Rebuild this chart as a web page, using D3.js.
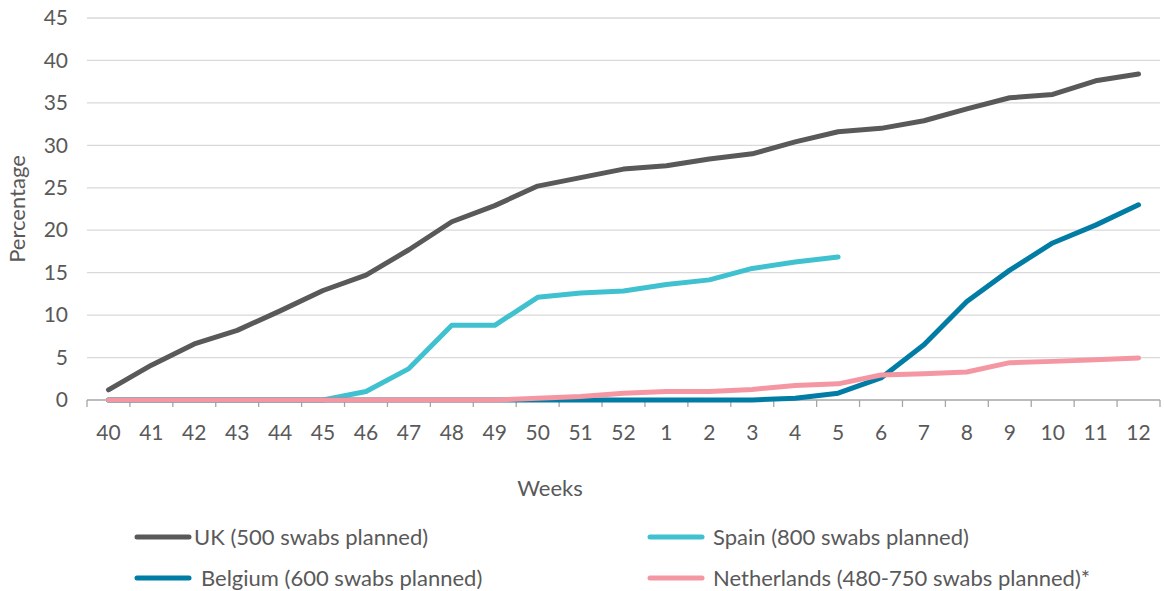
<!DOCTYPE html>
<html>
<head>
<meta charset="utf-8">
<script src="https://cdn.jsdelivr.net/npm/d3@7"></script>
<style>
  html, body { margin: 0; padding: 0; background: #fff; }
  svg { display: block; font-family: Lato, "Open Sans", sans-serif; }
</style>
</head>
<body>
<svg id="chart" width="1164" height="591"></svg>
<script>
// Surveillance weeks (ISO weeks 40–52, then 1–12 of the following year)
const weeks = ["40","41","42","43","44","45","46","47","48","49","50","51","52",
               "1","2","3","4","5","6","7","8","9","10","11","12"];

// Percentage of planned swabs collected, by week
const ukValues = [1.2, 4.1, 6.6, 8.2, 10.5, 12.9, 14.7, 17.7, 21.0, 22.9, 25.2, 26.2, 27.2,
                  27.6, 28.4, 29.0, 30.4, 31.6, 32.0, 32.9, 34.3, 35.6, 36.0, 37.6, 38.4];
const spainValues = [0, 0, 0, 0, 0, 0, 1.0, 3.7, 8.8, 8.8, 12.1, 12.6, 12.85,
                     13.6, 14.15, 15.5, 16.25, 16.85];
const belgiumValues = [0, 0, 0, 0, 0, 0, 0, 0, 0, 0, 0, 0, 0,
                       0, 0, 0, 0.2, 0.8, 2.6, 6.5, 11.6, 15.3, 18.5, 20.6, 23.0];
const netherlandsValues = [0, 0, 0, 0, 0, 0, 0, 0, 0, 0, 0.2, 0.4, 0.8,
                           1.0, 1.0, 1.25, 1.7, 1.9, 2.95, 3.1, 3.3, 4.4, 4.55, 4.75, 4.95];

const seriesNames = ["UK (500 swabs planned)", "Spain (800 swabs planned)",
                     "Belgium (600 swabs planned)", "Netherlands (480-750 swabs planned)*"];
const yTicks = [0, 5, 10, 15, 20, 25, 30, 35, 40, 45];

const series = [
  { name: seriesNames[0], values: ukValues, color: "#595959" },
  { name: seriesNames[1], values: spainValues, color: "#40c1cf" },
  { name: seriesNames[2], values: belgiumValues, color: "#007ca5" },
  { name: seriesNames[3], values: netherlandsValues, color: "#f597a3" }
];

const svg = d3.select("#chart");
const plot = { left: 87, right: 1160, top: 18, bottom: 400 };
const textColor = "#595959";
const tickFont = 21;
const labelFont = 22;

const x = d3.scaleBand().domain(weeks).range([plot.left, plot.right]);
const y = d3.scaleLinear().domain([0, 45]).range([plot.bottom, plot.top]);

// Horizontal gridlines
svg.append("g")
  .selectAll("line")
  .data(yTicks.filter(d => d > 0))
  .join("line")
  .attr("x1", plot.left).attr("x2", plot.right)
  .attr("y1", d => y(d)).attr("y2", d => y(d))
  .attr("stroke", "#d9d9d9").attr("stroke-width", 1.3);

// Y axis labels (no axis line)
const yAxis = svg.append("g")
  .attr("transform", `translate(${plot.left},0)`)
  .call(d3.axisLeft(y).tickValues(yTicks).tickSize(0).tickPadding(19));
yAxis.select(".domain").remove();
yAxis.selectAll("text")
  .attr("font-size", tickFont).attr("fill", textColor)
  .style("font-family", "Lato, 'Open Sans', sans-serif");

// X axis: ticks sit on the category boundaries
const xAxisG = svg.append("g").attr("transform", `translate(0,${plot.bottom})`);
xAxisG.append("line")
  .attr("x1", plot.left).attr("x2", plot.right)
  .attr("stroke", "#a6a6a6").attr("stroke-width", 1.3);
const boundaries = weeks.map(w => x(w)).concat([x(weeks[weeks.length - 1]) + x.bandwidth()]);
xAxisG.selectAll("line.tick")
  .data(boundaries)
  .join("line")
  .attr("class", "tick")
  .attr("x1", d => d).attr("x2", d => d)
  .attr("y1", 0).attr("y2", 7)
  .attr("stroke", "#a6a6a6").attr("stroke-width", 1.3);
xAxisG.selectAll("text")
  .data(weeks)
  .join("text")
  .attr("x", d => x(d) + x.bandwidth() / 2)
  .attr("y", 40)
  .attr("text-anchor", "middle")
  .attr("font-size", tickFont)
  .attr("fill", textColor)
  .text(d => d);

// Axis titles
svg.append("text")
  .attr("transform", "translate(25,209) rotate(-90)")
  .attr("text-anchor", "middle")
  .attr("font-size", labelFont).attr("fill", textColor)
  .text("Percentage");
svg.append("text")
  .attr("x", 550).attr("y", 496)
  .attr("text-anchor", "middle")
  .attr("font-size", labelFont).attr("fill", textColor)
  .text("Weeks");

// Series lines
const line = d3.line()
  .x((d, i) => x(weeks[i]) + x.bandwidth() / 2)
  .y(d => y(d));

svg.append("g")
  .selectAll("path")
  .data(series)
  .join("path")
  .attr("d", d => line(d.values))
  .attr("fill", "none")
  .attr("stroke", d => d.color)
  .attr("stroke-width", 5)
  .attr("stroke-linejoin", "round")
  .attr("stroke-linecap", "round");

// Legend, two columns by two rows
const legendPos = [
  { lx: 137, tx: 194, y: 537 },
  { lx: 650, tx: 713, y: 537 },
  { lx: 137, tx: 201, y: 578 },
  { lx: 650, tx: 713, y: 578 }
];
const legend = svg.append("g")
  .selectAll("g")
  .data(series)
  .join("g");
legend.append("line")
  .attr("x1", (d, i) => legendPos[i].lx)
  .attr("x2", (d, i) => legendPos[i].lx + 52)
  .attr("y1", (d, i) => legendPos[i].y)
  .attr("y2", (d, i) => legendPos[i].y)
  .attr("stroke", d => d.color)
  .attr("stroke-width", 5)
  .attr("stroke-linecap", "round");
legend.append("text")
  .attr("x", (d, i) => legendPos[i].tx)
  .attr("y", (d, i) => legendPos[i].y)
  .attr("dy", "0.35em")
  .attr("font-size", labelFont)
  .attr("fill", textColor)
  .text(d => d.name);
</script>
</body>
</html>
